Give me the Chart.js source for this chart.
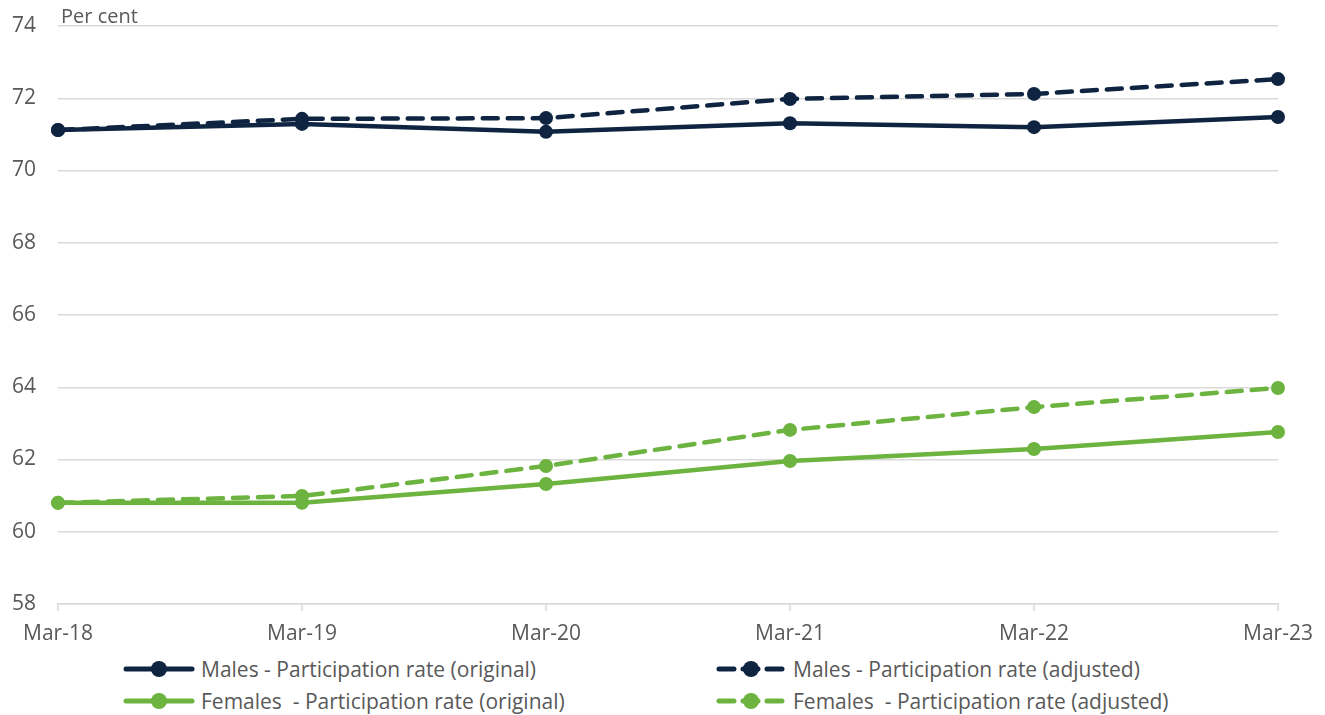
<!DOCTYPE html>
<html>
<head>
<meta charset="utf-8">
<script src="https://cdn.jsdelivr.net/npm/chart.js@4/dist/chart.umd.min.js"></script>
<style>
  html, body { margin: 0; padding: 0; background: #fff; }
  body { width: 1325px; height: 715px; position: relative; overflow: hidden; font-family: "Open Sans", sans-serif; }
  #wrap { position: absolute; left: 0; top: 0; width: 1325px; height: 650px; }
  #legend { position: absolute; left: 0; top: 655px; width: 1325px; height: 60px; }
  .item { position: absolute; display: flex; align-items: center; color: #595959; font-size: 21px; white-space: pre; line-height: 28px; }
  .item svg { margin-right: 6px; }
</style>
</head>
<body>
<div id="wrap"><canvas id="chart"></canvas></div>
<div id="legend"></div>
<script>
// ─── Data ─────────────────────────────────────────────────────────────────
const categories = ['Mar-18', 'Mar-19', 'Mar-20', 'Mar-21', 'Mar-22', 'Mar-23'];
const malesOriginal   = [71.12, 71.29, 71.07, 71.31, 71.20, 71.48];
const malesAdjusted   = [71.12, 71.43, 71.45, 71.98, 72.12, 72.53];
const femalesOriginal = [60.80, 60.80, 61.32, 61.96, 62.29, 62.76];
const femalesAdjusted = [60.80, 60.99, 61.82, 62.82, 63.45, 63.98];
const yTicks = [58, 60, 62, 64, 66, 68, 70, 72, 74];

const NAVY = '#0e2441';
const GREEN = '#6cb33f';
const TEXT = '#595959';
const GRID = '#d9d9d9';
const DASH = [15, 10];
const FONT = '"Open Sans", sans-serif';

const seriesDefs = [
  { label: 'Males - Participation rate (original)', data: malesOriginal, color: NAVY, dash: [] },
  { label: 'Males - Participation rate (adjusted)', data: malesAdjusted, color: NAVY, dash: DASH },
  { label: 'Females  - Participation rate (original)', data: femalesOriginal, color: GREEN, dash: [] },
  { label: 'Females  - Participation rate (adjusted)', data: femalesAdjusted, color: GREEN, dash: DASH },
];

// ─── "Per cent" label ────────────────────────────────────────────────────
const unitLabel = {
  id: 'unitLabel',
  afterDraw(chart) {
    const { ctx, chartArea } = chart;
    ctx.save();
    ctx.font = '20px ' + FONT;
    ctx.fillStyle = TEXT;
    ctx.textAlign = 'left';
    ctx.textBaseline = 'middle';
    ctx.fillText('Per cent', chartArea.left + 3, 17);
    ctx.restore();
  }
};

// small tick marks under the x axis
const xTickMarks = {
  id: 'xTickMarks',
  beforeDatasetsDraw(chart) {
    const { ctx, scales: { x }, chartArea } = chart;
    ctx.save();
    ctx.strokeStyle = GRID;
    ctx.lineWidth = 1.5;
    categories.forEach((c, i) => {
      const px = x.getPixelForValue(i);
      ctx.beginPath();
      ctx.moveTo(px, chartArea.bottom);
      ctx.lineTo(px, chartArea.bottom + 7);
      ctx.stroke();
    });
    ctx.restore();
  }
};

// ─── Chart ────────────────────────────────────────────────────────────────
new Chart(document.getElementById('chart'), {
  type: 'line',
  data: {
    labels: categories,
    datasets: seriesDefs.map(s => ({
      label: s.label,
      data: s.data,
      borderColor: s.color,
      backgroundColor: s.color,
      borderWidth: 4.5,
      borderDash: s.dash,
      borderCapStyle: 'round',
      pointRadius: 7,
      pointHoverRadius: 7,
      pointBorderWidth: 0,
      tension: 0,
      order: s.dash.length ? 2 : 1,
    })),
  },
  options: {
    responsive: true,
    maintainAspectRatio: false,
    animation: false,
    layout: { padding: { top: 26, right: 47, left: 0, bottom: 0 } },
    plugins: {
      legend: { display: false },
      tooltip: { enabled: false },
    },
    scales: {
      x: {
        type: 'category',
        offset: false,
        grid: { display: false, drawTicks: false },
        border: { display: true, color: GRID, width: 1.5 },
        ticks: { color: TEXT, font: { size: 21, family: FONT }, padding: 17, maxRotation: 0, autoSkip: false },
        afterFit(scale) { scale.height = 46; scale.paddingLeft = 0; scale.paddingRight = 0; },
      },
      y: {
        min: 58,
        max: 74,
        afterBuildTicks(scale) { scale.ticks = yTicks.map(v => ({ value: v })); },
        grid: { color: GRID, lineWidth: 1.5, drawTicks: false },
        border: { display: false },
        ticks: { color: TEXT, font: { size: 21, family: FONT }, padding: 22 },
        afterFit(scale) { scale.width = 58; scale.paddingTop = 0; scale.paddingBottom = 0; },
      },
    },
  },
  plugins: [unitLabel, xTickMarks],
});

// ─── Legend (two columns) ────────────────────────────────────────────────
const legendPos = [
  { left: 123, top: 0 }, { left: 715, top: 0 },
  { left: 123, top: 32 }, { left: 715, top: 32 },
];
const legendEl = document.getElementById('legend');
seriesDefs.forEach((s, i) => {
  const dashed = s.dash.length > 0;
  const line = dashed
    ? `<line x1="4" y1="10" x2="68" y2="10" stroke="${s.color}" stroke-width="5" stroke-linecap="round" stroke-dasharray="15 9" />`
    : `<line x1="3" y1="10" x2="69" y2="10" stroke="${s.color}" stroke-width="5" stroke-linecap="round" />`;
  const div = document.createElement('div');
  div.className = 'item';
  div.style.left = legendPos[i].left + 'px';
  div.style.top = legendPos[i].top + 'px';
  div.innerHTML = `<svg width="72" height="20">${line}<circle cx="36" cy="10" r="8" fill="${s.color}"/></svg>${s.label}`;
  legendEl.appendChild(div);
});
</script>
</body>
</html>
